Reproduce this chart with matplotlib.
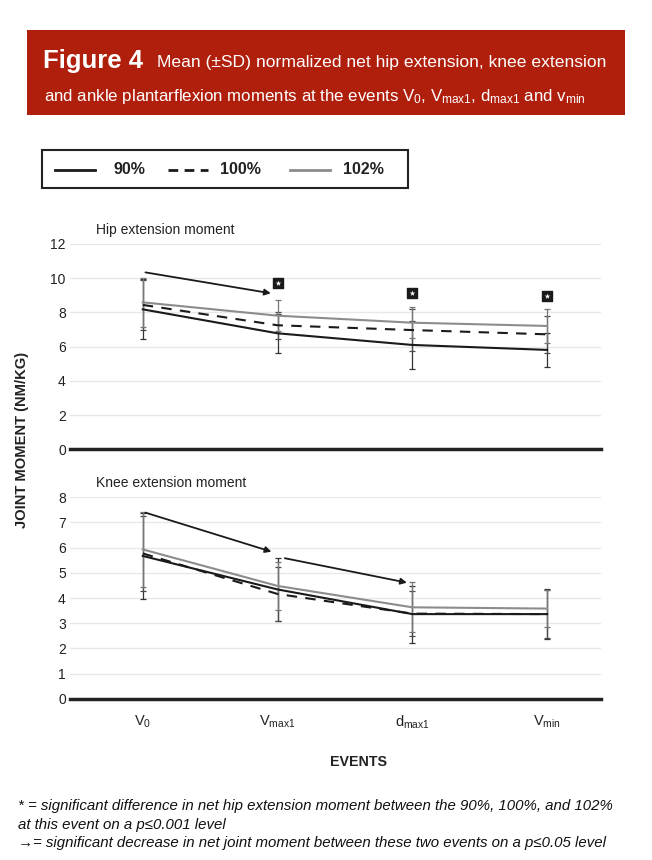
import matplotlib
matplotlib.use("Agg")
import matplotlib.pyplot as plt
from matplotlib.patches import Rectangle
import numpy as np

plt.rcParams['font.family'] = ['Liberation Sans', 'DejaVu Sans']
plt.rcParams['mathtext.fontset'] = 'custom'
plt.rcParams['mathtext.rm'] = 'Liberation Sans'
plt.rcParams['mathtext.it'] = 'Liberation Sans:italic'
plt.rcParams['mathtext.bf'] = 'Liberation Sans:bold'

# ---------------- data ----------------
events = ["V$_{\\mathrm{0}}$", "V$_{\\mathrm{max1}}$", "d$_{\\mathrm{max1}}$", "V$_{\\mathrm{min}}$"]
series_names = ["90%", "100%", "102%"]

hip_90 = [8.18, 6.78, 6.10, 5.81]
hip_100 = [8.44, 7.25, 6.97, 6.72]
hip_102 = [8.59, 7.81, 7.40, 7.21]
hip_sd_90 = [1.75, 1.13, 1.42, 1.00]
hip_sd_100 = [1.47, 0.78, 1.21, 1.10]
hip_sd_102 = [1.42, 0.90, 0.90, 0.99]

knee_90 = [5.67, 4.34, 3.36, 3.36]
knee_100 = [5.77, 4.16, 3.38, 3.36]
knee_102 = [5.93, 4.48, 3.63, 3.58]
knee_sd_90 = [1.69, 1.25, 1.13, 1.00]
knee_sd_100 = [1.50, 1.07, 0.90, 0.95]
knee_sd_102 = [1.50, 0.95, 1.00, 0.75]

hip_star_events = [1, 2, 3]
hip_star_y = [9.70, 9.12, 8.96]

# significance arrows: (x0, y0, x1, y1) in event/value units
hip_arrows = [(0.02, 10.34, 0.95, 9.12)]
knee_arrows = [(0.02, 7.39, 0.955, 5.84), (1.054, 5.58, 1.96, 4.61)]

# ---------------- figure ----------------
W, H = 652, 860
fig = plt.figure(figsize=(W / 100, H / 100), dpi=100)

def fx(px):
    return px / W

def fy(py):
    return 1 - py / H

# header box
red = '#B01E0C'
fig.patches.append(Rectangle((fx(27), fy(115)), fx(625) - fx(27), fy(30) - fy(115),
                             transform=fig.transFigure, facecolor=red, edgecolor='none'))
fig.text(fx(43), fy(61), "Figure 4", color='white', fontsize=18.5, fontweight='bold',
         va='center', ha='left')
fig.text(fx(157), fy(63), "Mean (±SD) normalized net hip extension, knee extension",
         color='white', fontsize=12.6, va='center', ha='left')
fig.text(fx(44), fy(96), "and ankle plantarflexion moments at the events "
         "V$_{\\mathrm{0}}$, V$_{\\mathrm{max1}}$, d$_{\\mathrm{max1}}$ and v$_{\\mathrm{min}}$",
         color='white', fontsize=12.2, va='center', ha='left')

# legend box
fig.patches.append(Rectangle((fx(42), fy(188)), fx(408) - fx(42), fy(150) - fy(188),
                             transform=fig.transFigure, facecolor='white',
                             edgecolor='#222222', linewidth=1.5))
ly = fy(170)
fig.add_artist(plt.Line2D([fx(55), fx(95)], [ly, ly], color='#1a1a1a', lw=2.0,
                          transform=fig.transFigure))
fig.text(fx(113), ly, series_names[0], fontsize=11.5, fontweight='bold', va='center', color='#222')
fig.add_artist(plt.Line2D([fx(168), fx(208)], [ly, ly], color='#1a1a1a', lw=2.0,
                          dashes=(3.5, 2.3), transform=fig.transFigure))
fig.text(fx(220), ly, series_names[1], fontsize=11.5, fontweight='bold', va='center', color='#222')
fig.add_artist(plt.Line2D([fx(290), fx(330)], [ly, ly], color='#8c8c8c', lw=2.0,
                          transform=fig.transFigure))
fig.text(fx(343), ly, series_names[2], fontsize=11.5, fontweight='bold', va='center', color='#222')

x = np.arange(len(events))
xlim = (-0.54, 3.40)
title_x = (96 - 70) / (601 - 70)

styles = [
    dict(color='#1a1a1a', lw=1.5, ls='-'),
    dict(color='#1a1a1a', lw=1.5, ls=(0, (5, 4))),
    dict(color='#8c8c8c', lw=1.5, ls='-'),
]
err_colors = ['#333333', '#4a4a4a', '#777777']


def setup_axis(ax, ymax, step, title):
    ax.set_xlim(*xlim)
    ax.set_ylim(0, ymax)
    ax.set_yticks(np.arange(0, ymax + 0.01, step))
    ax.yaxis.grid(True, color='#e8e8e8', lw=1.0)
    ax.set_axisbelow(True)
    for s in ['top', 'right', 'left']:
        ax.spines[s].set_visible(False)
    ax.spines['bottom'].set_color('#222222')
    ax.spines['bottom'].set_linewidth(2.5)
    ax.tick_params(axis='y', length=0, labelsize=10, pad=3, labelcolor='#222')
    ax.tick_params(axis='x', length=0)
    ax.text(title_x, 1.035, title, transform=ax.transAxes, fontsize=10, ha='left',
            va='bottom', color='#222')


def draw_series(ax, means, sds):
    for m, sd, ec in zip(means, sds, err_colors):
        ax.errorbar(x, m, yerr=sd, fmt='none', ecolor=ec, elinewidth=0.9, capsize=2.0,
                    capthick=0.9, zorder=2, clip_on=False)
    for m, st in zip(means, styles):
        ax.plot(x, m, color=st['color'], lw=st['lw'], linestyle=st['ls'], zorder=3,
                clip_on=False)


def draw_arrows(ax, arrows):
    for x0, y0, x1, y1 in arrows:
        ax.annotate("", xy=(x1, y1), xytext=(x0, y0),
                    arrowprops=dict(arrowstyle='-|>', color='#1a1a1a', lw=1.3,
                                    mutation_scale=9, shrinkA=0, shrinkB=0),
                    annotation_clip=False)


# hip
ax1 = fig.add_axes([fx(70), fy(449.3), fx(601) - fx(70), fy(244) - fy(449.3)])
setup_axis(ax1, 12, 2, "Hip extension moment")
ax1.set_xticks([])
draw_series(ax1, [hip_90, hip_100, hip_102], [hip_sd_90, hip_sd_100, hip_sd_102])
draw_arrows(ax1, hip_arrows)
ax1.scatter(hip_star_events, hip_star_y, marker='s', s=60, color='#1a1a1a', zorder=5,
            clip_on=False)
ax1.scatter(hip_star_events, hip_star_y, marker='*', s=18, color='white', zorder=6,
            linewidths=0, clip_on=False)

# knee
ax2 = fig.add_axes([fx(70), fy(698.7), fx(601) - fx(70), fy(497.3) - fy(698.7)])
setup_axis(ax2, 8, 1, "Knee extension moment")
draw_series(ax2, [knee_90, knee_100, knee_102], [knee_sd_90, knee_sd_100, knee_sd_102])
draw_arrows(ax2, knee_arrows)
ax2.set_xticks(x)
ax2.set_xticklabels(events, fontsize=10.5, color='#222')
ax2.tick_params(axis='x', pad=11)

# axis titles
fig.text(fx(358), fy(762), "EVENTS", fontsize=10.3, fontweight='bold', ha='center',
         va='center', color='#222')
fig.text(fx(22), fy(440), "JOINT MOMENT (NM/KG)", fontsize=10.6, fontweight='bold',
         rotation=90, ha='center', va='center', color='#222')

# footnotes
foot_kw = dict(fontsize=10.8, style='italic', ha='left', va='center', color='#111',
               family=['Liberation Sans', 'DejaVu Sans'])
fig.text(fx(18), fy(806), "* = significant difference in net hip extension moment between the 90%, 100%, and 102%",
         **foot_kw)
fig.text(fx(18), fy(825), "at this event on a p≤0.001 level", **foot_kw)
fig.text(fx(18), fy(843), "→= significant decrease in net joint moment between these two events on a p≤0.05 level",
         **foot_kw)

fig.savefig("out.png", dpi=100)
